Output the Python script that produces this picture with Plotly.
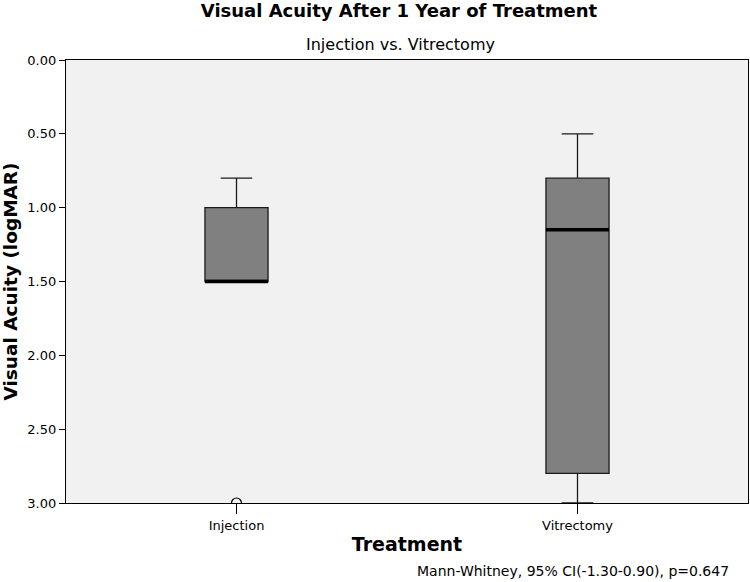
import plotly.graph_objects as go

# Box statistics (logMAR, axis drawn reversed)
groups = ['Injection', 'Vitrectomy']
positions = [0, 1]
whisker_min = [0.80, 0.50]
q1 = [1.00, 0.80]
medians = [1.50, 1.15]
q3 = [1.50, 2.80]
whisker_max = [1.50, 3.00]
outliers = [3.00]
outlier_group = [0]

y_ticks = [0.0, 0.5, 1.0, 1.5, 2.0, 2.5, 3.0]

BOX_WIDTH = 0.185
FONT = 'DejaVu Sans, sans-serif'

fig = go.Figure()

for i in range(len(groups)):
    fig.add_trace(go.Box(
        x=[positions[i]], q1=[q1[i]], median=[medians[i]], q3=[q3[i]],
        lowerfence=[whisker_min[i]], upperfence=[whisker_max[i]],
        width=BOX_WIDTH, whiskerwidth=0.5, boxpoints=False,
        fillcolor='#808080', line=dict(color='#1a1a1a', width=1.3),
        name=groups[i], showlegend=False, hoverinfo='skip'))
    # thick median bar, as SPSS draws it
    half = BOX_WIDTH / 2
    fig.add_trace(go.Scatter(
        x=[positions[i] - half, positions[i] + half], y=[medians[i], medians[i]],
        mode='lines', line=dict(color='black', width=3.5),
        showlegend=False, hoverinfo='skip'))

fig.add_trace(go.Scatter(
    x=[positions[g] for g in outlier_group], y=outliers, mode='markers',
    marker=dict(symbol='circle-open', size=10, color='black', line=dict(width=1.2)),
    showlegend=False, hoverinfo='skip'))

fig.update_layout(
    width=750, height=582,
    margin=dict(l=66, r=2, t=60, b=79),
    paper_bgcolor='white', plot_bgcolor='#f1f1f1',
    font=dict(family=FONT, color='black', size=13),
    title=dict(text='<b>Visual Acuity After 1 Year of Treatment</b>',
               x=0.532, xanchor='center', y=0.992, yanchor='top',
               font=dict(size=18, family=FONT)),
    annotations=[
        dict(text='Injection vs. Vitrectomy', xref='paper', yref='paper',
             x=0.491, y=1.0, yshift=16, xanchor='center', yanchor='middle',
             showarrow=False, font=dict(size=16)),
        dict(text='Mann-Whitney, 95% CI(-1.30-0.90), p=0.647', xref='paper', yref='paper',
             x=0.975, y=0, yshift=-68, xanchor='right', yanchor='middle',
             showarrow=False, font=dict(size=14)),
    ],
)

fig.update_xaxes(
    range=[-0.5, 1.5], tickvals=positions, ticktext=groups,
    ticks='outside', ticklen=10, tickcolor='black', tickfont=dict(size=13),
    showgrid=False, zeroline=False, showline=True, linecolor='black',
    linewidth=1.2, mirror=True,
    title=dict(text='<b>Treatment</b>', font=dict(size=19), standoff=5))

fig.update_yaxes(
    range=[3.0, 0.0], tickvals=y_ticks, tickformat='.2f',
    ticks='outside', ticklen=6, tickcolor='black', tickfont=dict(size=13),
    showgrid=False, zeroline=False, showline=True, linecolor='black',
    linewidth=1.2, mirror=True,
    title=dict(text='<b>Visual Acuity (logMAR)</b>', font=dict(size=18.5), standoff=6))

# drop the browser's default body margin so the 750x582 figure fits the window
fig.write_html('out.html', config={'displayModeBar': False},
               post_script="document.body.style.margin='0';")
